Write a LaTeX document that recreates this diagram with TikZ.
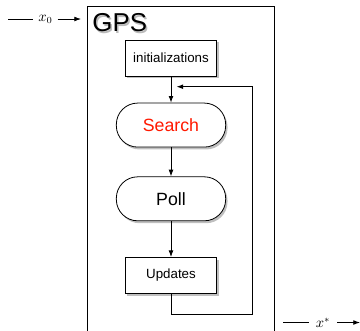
\documentclass[tikz,border=0pt]{standalone}
\usepackage{fontspec}
\setsansfont{Liberation Sans}
\usepackage{amsmath}
\usetikzlibrary{positioning,shadows,arrows.meta}

\begin{document}
\begin{tikzpicture}[x=0.75pt,y=-0.75pt,semithick,>={Latex[length=5pt,width=3.6pt]},
    node distance=55pt,on grid,
    box/.style={draw,fill=white,font=\sffamily\fontsize{10}{12}\selectfont,
      minimum width=68.5pt,minimum height=27pt,
      drop shadow={shadow xshift=1.4pt,shadow yshift=-1.8pt,opacity=0.5}},
    pill/.style={box,rounded corners=16pt,minimum width=82pt,minimum height=33pt,
      font=\sffamily\fontsize{13.3}{15}\selectfont},
    lbl/.style={inner ysep=1pt,font=\fontsize{10.5}{12}\selectfont}]

  \useasboundingbox (0,0) rectangle (360,330);

  % outer GPS frame
  \draw (87.5,6) rectangle (274,340);
  \node[anchor=base west,inner sep=0pt,text=black!45,opacity=0.6,
        font=\sffamily\fontsize{19.4}{22}\selectfont] at (93.5,33) {GPS};
  \node[anchor=base west,inner sep=0pt,
        font=\sffamily\fontsize{19.4}{22}\selectfont] (gps) at (92,31.5) {GPS};

  % steps
  \node[box]  (init)                        at (171,58) {initializations};
  \node[pill] (search) [below=50.3pt of init] {\textcolor{red!80!orange}{Search}};
  \node[pill] (poll)   [below=55.3pt of search] {Poll};
  \node[box]  (upd)    [below=57.5pt of poll]   {Updates};

  \path[->]
    (init)   edge (search)
    (search) edge (poll)
    (poll)   edge (upd);

  % loop back
  \coordinate (fb)   at (252,314.3);
  \coordinate (back) at (176.5,86.7);
  \draw[->] (upd.south) |- (fb) |- (back);

  % input / output
  \coordinate (in)     at (8,19);
  \coordinate (inend)  at (81,19);
  \node[lbl,inner xsep=3.5pt] (x0) at (45.5,19) {$x_0$};
  \draw (in) -- (x0);
  \draw[->] (x0) -- (inend);

  \coordinate (outend) at (360,322.5);
  \node[lbl,inner xsep=5pt] (xs) at (323,322.5) {$x^{*}$};
  \coordinate (out)    at (283,322.5);
  \draw (out) -- (xs);
  \draw[->] (xs) -- (outend);
\end{tikzpicture}
\end{document}
